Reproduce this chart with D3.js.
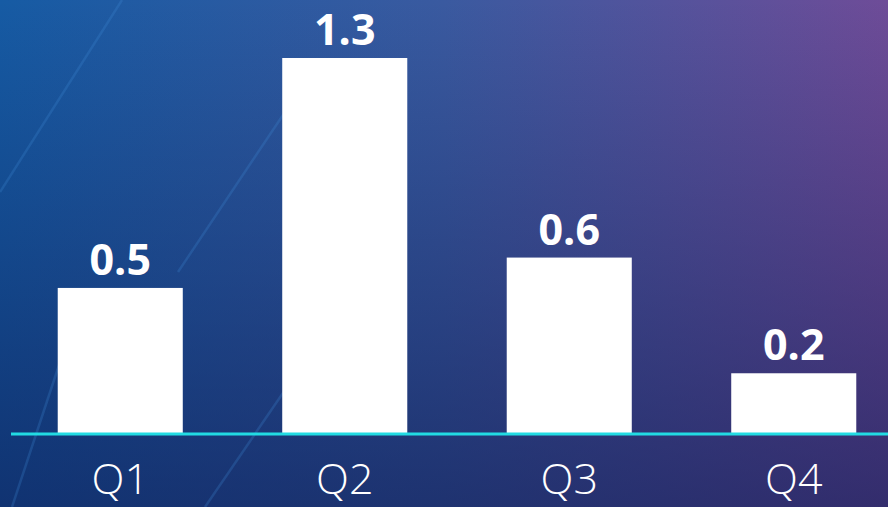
<!DOCTYPE html>
<html><head><meta charset="utf-8">
<script src="https://cdn.jsdelivr.net/npm/d3@7"></script>
<style>html,body{margin:0;padding:0;background:#1a3f80;overflow:hidden}</style>
</head><body>
<svg id="c" width="888" height="507"></svg>
<script>
const categories = ["Q1", "Q2", "Q3", "Q4"];
const values = [0.505, 1.3, 0.61, 0.21];
const valueLabels = ["0.5", "1.3", "0.6", "0.2"];

const W = 888, H = 507, baseY = 434;
const svg = d3.select("#c");
const defs = svg.append("defs");

const gh = defs.append("linearGradient").attr("id","gh").attr("x1","0").attr("y1","0").attr("x2","1").attr("y2","0");
gh.append("stop").attr("offset","0").attr("stop-color","#165ba4");
gh.append("stop").attr("offset","0.5").attr("stop-color","#3a5aa0");
gh.append("stop").attr("offset","1").attr("stop-color","#6e4c98");
const gv = defs.append("linearGradient").attr("id","gv").attr("x1","0").attr("y1","0").attr("x2","0").attr("y2","1");
gv.append("stop").attr("offset","0").attr("stop-color","#0c1850").attr("stop-opacity",0);
gv.append("stop").attr("offset","1").attr("stop-color","#0c1850").attr("stop-opacity",0.6);

svg.append("rect").attr("width",W).attr("height",H).attr("fill","url(#gh)");
svg.append("rect").attr("width",W).attr("height",H).attr("fill","url(#gv)");

// faint decorative diagonal streaks
const streaks = [[122,0,0,192],[285,112,178,272],[65,347,12,507],[285,390,205,507]];
svg.append("g").selectAll("line").data(streaks).join("line")
  .attr("x1",d=>d[0]).attr("y1",d=>d[1]).attr("x2",d=>d[2]).attr("y2",d=>d[3])
  .attr("stroke","#3f8ad8").attr("stroke-opacity",0.25).attr("stroke-width",2.5);

const x = d3.scaleBand().domain(categories).range([8, 906]).paddingInner(0.443).paddingOuter(0.2215);
const y = d3.scaleLinear().domain([0, 1.3]).range([baseY, 58]);

svg.append("g").selectAll("rect").data(values).join("rect")
  .attr("x",(d,i)=>x(categories[i])).attr("y",d=>y(d))
  .attr("width",x.bandwidth()).attr("height",d=>baseY-y(d))
  .attr("fill","#ffffff");

svg.append("g").selectAll("text").data(values).join("text")
  .attr("x",(d,i)=>x(categories[i])+x.bandwidth()/2)
  .attr("y",d=>y(d)-13)
  .attr("text-anchor","middle")
  .attr("font-family","'Open Sans', sans-serif").attr("font-weight",700)
  .attr("font-size",43).attr("fill","#ffffff")
  .text((d,i)=>valueLabels[i]);

svg.append("line").attr("x1",11).attr("x2",W).attr("y1",baseY).attr("y2",baseY)
  .attr("stroke","#22dbe3").attr("stroke-width",3);

const xAxis = d3.axisBottom(x).tickSize(0).tickPadding(0);
const ax = svg.append("g").attr("transform",`translate(0,${baseY})`).call(xAxis);
ax.select(".domain").remove();
ax.selectAll("text").attr("dy",null).attr("y",60)
  .attr("font-family","'Open Sans', sans-serif").attr("font-weight",300)
  .attr("font-size",43).attr("fill","#ffffff");
</script>
</body></html>
